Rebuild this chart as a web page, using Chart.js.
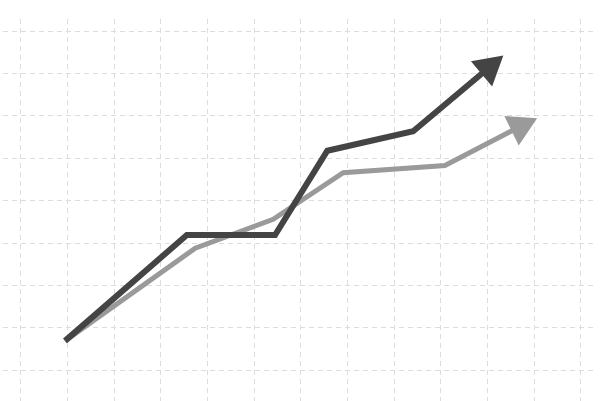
<!DOCTYPE html>
<html>
<head>
<meta charset="utf-8">
<script src="https://cdn.jsdelivr.net/npm/chart.js@4"></script>
<style>
  html, body { margin: 0; padding: 0; background: #ffffff; }
  #wrap { width: 600px; height: 401px; }
</style>
</head>
<body>
<div id="wrap"><canvas id="c" width="600" height="401"></canvas></div>
<script>
// Data (in grid units: one unit = one grid cell)
const seriesNames = ["Series A", "Series B"];
const darkX = [0.95, 3.56, 5.45, 6.57, 8.41, 10.03];
const darkY = [0.69, 3.19, 3.19, 5.18, 5.64, 7.14];
const grayX = [0.95, 3.74, 5.41, 6.91, 9.09, 10.70];
const grayY = [0.69, 2.88, 3.56, 4.66, 4.83, 5.75];

function toPoints(xs, ys) { return xs.map((x, i) => ({ x: x, y: ys[i] })); }
function endArrow(n, r) { return Array.from({ length: n }, (_, i) => i === n - 1 ? r : 0); }

const ctx = document.getElementById('c').getContext('2d');
new Chart(ctx, {
  type: 'line',
  data: {
    datasets: [
      {
        label: seriesNames[0],
        data: toPoints(darkX, darkY),
        borderColor: '#444444',
        backgroundColor: '#444444',
        borderWidth: 6,
        borderJoinStyle: 'miter',
        borderCapStyle: 'butt',
        tension: 0,
        fill: false,
        pointStyle: 'triangle',
        pointRadius: endArrow(darkX.length, 19),
        pointHoverRadius: endArrow(darkX.length, 19),
        pointRotation: endArrow(darkX.length, 50),
        pointBackgroundColor: '#444444',
        pointBorderWidth: 0
      },
      {
        label: seriesNames[1],
        data: toPoints(grayX, grayY),
        borderColor: '#9a9a9a',
        backgroundColor: '#9a9a9a',
        borderWidth: 5,
        borderJoinStyle: 'miter',
        borderCapStyle: 'butt',
        tension: 0,
        fill: false,
        pointStyle: 'triangle',
        pointRadius: endArrow(grayX.length, 19),
        pointHoverRadius: endArrow(grayX.length, 19),
        pointRotation: endArrow(grayX.length, 64),
        pointBackgroundColor: '#9a9a9a',
        pointBorderWidth: 0
      }
    ]
  },
  options: {
    responsive: false,
    animation: false,
    layout: { autoPadding: false, padding: { left: 3, right: 4, top: 19, bottom: 0 } },
    plugins: { legend: { display: false }, tooltip: { enabled: false } },
    scales: {
      x: {
        type: 'linear',
        min: -0.379,
        max: 12.327,
        ticks: { display: false, stepSize: 1, includeBounds: false },
        border: { display: false, dash: [5, 4] },
        grid: { color: '#dddddd', lineWidth: 1, drawTicks: false }
      },
      y: {
        type: 'linear',
        min: -0.73,
        max: 8.29,
        ticks: { display: false, stepSize: 1, includeBounds: false },
        border: { display: false, dash: [5, 4] },
        grid: { color: '#dddddd', lineWidth: 1, drawTicks: false }
      }
    }
  }
});
</script>
</body>
</html>
